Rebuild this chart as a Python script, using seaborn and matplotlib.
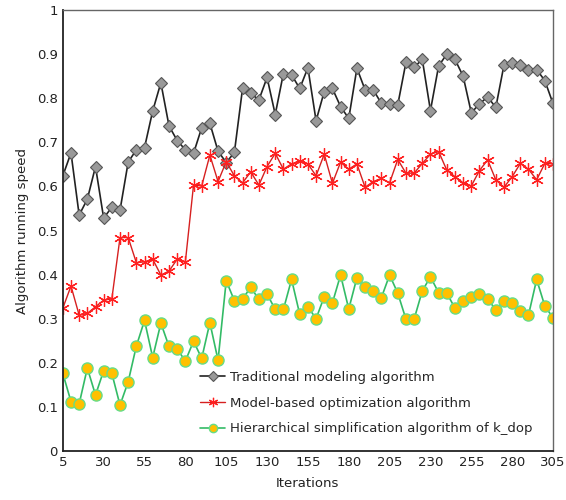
import numpy as np
import pandas as pd
import matplotlib
matplotlib.use("Agg")
import matplotlib.pyplot as plt
import seaborn as sns

# iterations 5..305, step 5
iterations = list(range(5, 306, 5))

traditional = [
    0.624, 0.676, 0.535, 0.571, 0.645, 0.528, 0.553, 0.546, 0.655, 0.683,
    0.688, 0.771, 0.835, 0.737, 0.704, 0.683, 0.675, 0.733, 0.743, 0.680,
    0.654, 0.677, 0.822, 0.811, 0.796, 0.847, 0.763, 0.856, 0.853, 0.822,
    0.869, 0.749, 0.815, 0.822, 0.781, 0.754, 0.868, 0.819, 0.819, 0.788,
    0.787, 0.785, 0.881, 0.870, 0.888, 0.772, 0.873, 0.900, 0.888, 0.850,
    0.767, 0.787, 0.803, 0.779, 0.875, 0.879, 0.875, 0.864, 0.865, 0.840,
    0.788,
]

model_based = [
    0.324, 0.374, 0.308, 0.312, 0.327, 0.342, 0.345, 0.484, 0.484, 0.427,
    0.429, 0.435, 0.399, 0.408, 0.435, 0.429, 0.603, 0.601, 0.671, 0.611,
    0.656, 0.624, 0.608, 0.633, 0.603, 0.645, 0.675, 0.639, 0.651, 0.658,
    0.651, 0.624, 0.673, 0.607, 0.655, 0.639, 0.651, 0.598, 0.611, 0.618,
    0.608, 0.661, 0.630, 0.630, 0.652, 0.673, 0.679, 0.637, 0.622, 0.608,
    0.601, 0.636, 0.660, 0.615, 0.598, 0.622, 0.652, 0.639, 0.615, 0.652,
    0.651,
]

hierarchical = [
    0.176, 0.112, 0.107, 0.188, 0.127, 0.182, 0.176, 0.104, 0.157, 0.238,
    0.296, 0.212, 0.290, 0.237, 0.231, 0.204, 0.249, 0.210, 0.291, 0.206,
    0.386, 0.341, 0.345, 0.371, 0.344, 0.356, 0.321, 0.321, 0.389, 0.310,
    0.327, 0.300, 0.350, 0.336, 0.399, 0.322, 0.393, 0.371, 0.363, 0.348,
    0.399, 0.358, 0.299, 0.299, 0.363, 0.395, 0.359, 0.358, 0.324, 0.340,
    0.350, 0.355, 0.345, 0.320, 0.340, 0.335, 0.317, 0.308, 0.389, 0.329,
    0.302,
]

labels = [
    "Traditional modeling algorithm",
    "Model-based optimization algorithm",
    "Hierarchical simplification algorithm of k_dop",
]
x_ticks = list(range(5, 306, 25))

sns.set_style("white")
plt.rcParams["font.family"] = ["DejaVu Sans"]
plt.rcParams["font.size"] = 9.5

fig = plt.figure(figsize=(5.66, 5.0), dpi=100)
ax = fig.add_axes([0.111, 0.098, 0.866, 0.882])

df = pd.DataFrame({"iter": iterations, "trad": traditional,
                   "model": model_based, "hier": hierarchical})

sns.lineplot(data=df, x="iter", y="trad", ax=ax, color="#222222", lw=1.2,
             marker="D", markersize=6.5, markerfacecolor="#999999",
             markeredgecolor="#555555", markeredgewidth=0.8, label=labels[0])
sns.lineplot(data=df, x="iter", y="model", ax=ax, color="#d62020", lw=1.0,
             marker=(6, 2, 0), markersize=9, markeredgecolor="#ff2020",
             markeredgewidth=0.9, label=labels[1])
sns.lineplot(data=df, x="iter", y="hier", ax=ax, color="#33bb66", lw=1.2,
             marker="o", markersize=8, markerfacecolor="#ffc000",
             markeredgecolor="#66dd88", markeredgewidth=1.0, label=labels[2])

ax.set_xlim(5, 305)
ax.set_ylim(0, 1)
ax.set_xticks(x_ticks)
ax.set_yticks(np.arange(0, 1.01, 0.1))
ax.set_yticklabels(["0", "0.1", "0.2", "0.3", "0.4", "0.5", "0.6", "0.7", "0.8", "0.9", "1"])
ax.tick_params(direction="in", length=4, width=1, colors="#222222", labelsize=9.5)
ax.set_xlabel("Iterations", fontsize=9.5, color="#222222", labelpad=6)
ax.set_ylabel("Algorithm running speed", fontsize=9.5, color="#222222", labelpad=6)

for side in ["left", "bottom"]:
    ax.spines[side].set_color("#222222")
    ax.spines[side].set_linewidth(1.3)
for side in ["top", "right"]:
    ax.spines[side].set_color("#666666")
    ax.spines[side].set_linewidth(1.0)

ax.legend(loc="lower left", bbox_to_anchor=(0.256, 0.009), frameon=False,
          fontsize=9.5, handlelength=1.9, labelspacing=0.95, handletextpad=0.35,
          markerscale=0.75)

fig.savefig("out.png", dpi=100)
